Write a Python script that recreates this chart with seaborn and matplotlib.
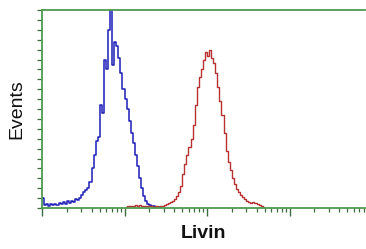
import numpy as np
import pandas as pd
import matplotlib
matplotlib.use("Agg")
import matplotlib.pyplot as plt
import seaborn as sns
from matplotlib.ticker import LogLocator, MultipleLocator, NullFormatter

# histogram counts (log10 channel bins of 0.025)
bin_w = 0.025
blue_start = 0.0
blue_counts = [5, 1.5, 2, 1, 2, 1.5, 2, 1.5, 2.5, 2,
               3, 2, 3.5, 2.5, 3.5, 3, 4.5, 4, 5, 6.5,
               8, 9, 10, 13, 20, 27, 34, 36, 52, 48,
               75, 70, 90, 100, 72, 84, 82, 76, 68, 60,
               55, 50, 44, 38, 33, 27, 21, 15, 10, 6,
               3.5, 2, 1.5, 1.2, 0.8, 0.6, 0.4, 0.3]
red_start = 1.0
red_counts = [0.5, 1, 0.8, 1.2, 1, 1.5, 1, 1.5, 1.2, 1,
              0.8, 1, 0.8, 1, 0.6, 0.8, 0.5, 0.8, 1, 1.5,
              2, 2.5, 3, 3.5, 4.5, 6, 8, 11, 17, 22,
              27, 31, 35, 42, 52, 61, 66, 70, 75, 79,
              77, 80, 76, 73, 68, 61, 54, 47, 38, 29,
              23, 19, 15, 12, 9.5, 8, 6.5, 5.5, 4.5, 3.5,
              3, 2.5, 3, 2.5, 2, 1.5, 1, 0.5]


def to_frame(start, counts):
    lx = start + (np.arange(len(counts)) + 0.5) * bin_w
    return pd.DataFrame({"Livin": 10 ** lx, "Events": counts})


blue = to_frame(blue_start, blue_counts)
red = to_frame(red_start, red_counts)

sns.set_style("white")
plt.rcParams["font.family"] = ["Liberation Sans", "DejaVu Sans"]

fig = plt.figure(figsize=(3.66, 2.49), dpi=100)
ax = fig.add_axes([42 / 366, 41 / 249, 323 / 366, 198 / 249])

sns.lineplot(data=blue, x="Livin", y="Events", color="#1e1eb8", lw=1.1,
             drawstyle="steps-mid", ax=ax)
sns.lineplot(data=red, x="Livin", y="Events", color="#b83232", lw=1.0,
             drawstyle="steps-mid", ax=ax)

ax.set_xscale("log")
ax.set_xlim(1, 10 ** 3.915)
ax.set_ylim(0, 100)

green = "#4f9a4f"
for side in ["top", "left", "bottom"]:
    ax.spines[side].set_color(green)
    ax.spines[side].set_linewidth(1.3)
ax.spines["right"].set_visible(False)

ax.xaxis.set_major_locator(LogLocator(base=10, numticks=10))
ax.xaxis.set_minor_locator(LogLocator(base=10, subs=np.arange(2, 10), numticks=10))
ax.xaxis.set_major_formatter(NullFormatter())
ax.xaxis.set_minor_formatter(NullFormatter())
ax.yaxis.set_major_locator(MultipleLocator(5))
ax.yaxis.set_major_formatter(NullFormatter())
ax.tick_params(axis="x", which="major", direction="out", length=6, width=1,
               color="#3d6b3d", bottom=True)
ax.tick_params(axis="x", which="minor", direction="out", length=3, width=0.9,
               color="#3d6b3d", bottom=True)
ax.tick_params(axis="y", which="major", direction="out", length=3.5, width=0.9,
               color="#3d6b3d", left=True)

ax.set_xlabel("Livin", fontsize=14, fontweight="bold", labelpad=3, color="#111111")
ax.set_ylabel("Events", fontsize=14, labelpad=5, color="#111111")

fig.savefig("out.png", dpi=100)
